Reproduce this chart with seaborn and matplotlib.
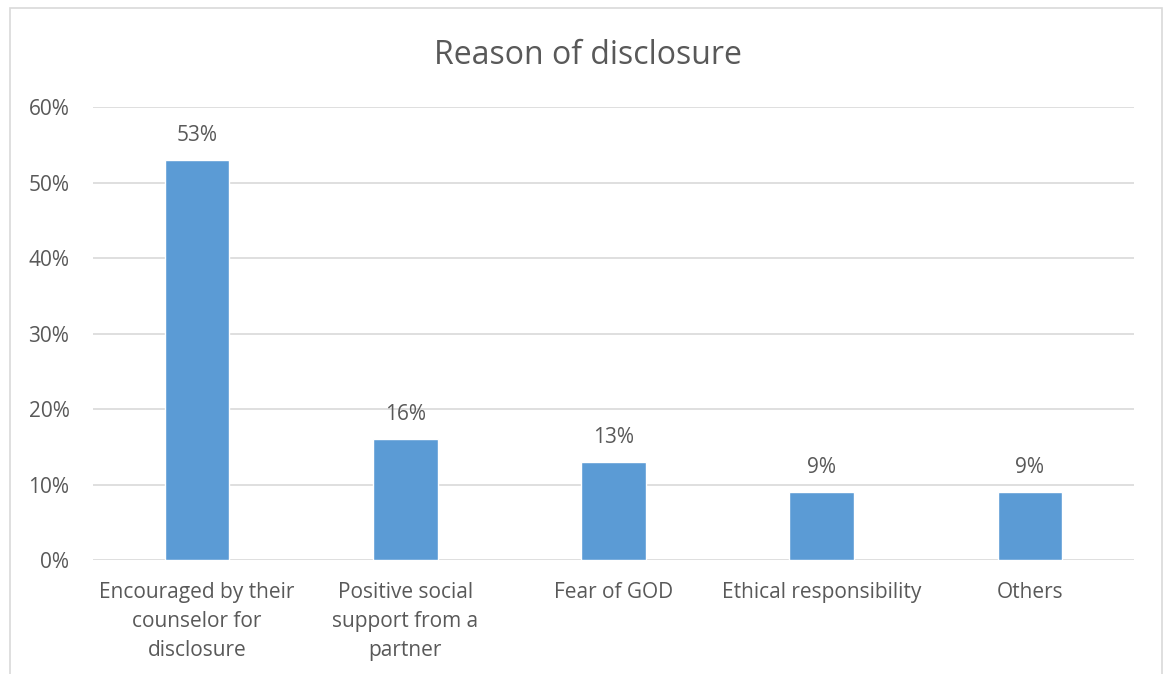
import matplotlib
matplotlib.use("Agg")
import matplotlib.pyplot as plt
import seaborn as sns
import pandas as pd
from matplotlib.patches import Rectangle

categories = ["Encouraged by their\ncounselor for\ndisclosure",
              "Positive social\nsupport from a\npartner",
              "Fear of GOD",
              "Ethical responsibility",
              "Others"]
values = [0.53, 0.16, 0.13, 0.09, 0.09]
value_labels = ["53%", "16%", "13%", "9%", "9%"]
yticks = [0, 0.1, 0.2, 0.3, 0.4, 0.5, 0.6]
ytick_labels = ["0%", "10%", "20%", "30%", "40%", "50%", "60%"]
title = "Reason of disclosure"

sns.set_theme(style="white")
plt.rcParams['font.family'] = ['Open Sans', 'DejaVu Sans']

TEXT = "#595959"
GRID = "#D9D9D9"
BAR = "#5B9BD5"

df = pd.DataFrame({"cat": categories, "val": values})

fig = plt.figure(figsize=(11.66, 6.74), dpi=100)
fig.patches.append(Rectangle((10/1166, -0.01), (1162-10)/1166, (674-8)/674 + 0.01,
                             transform=fig.transFigure, fill=False,
                             edgecolor="#D9D9D9", linewidth=1.2))
ax = fig.add_axes([93/1166, 1-560/674, (1134-93)/1166, (560-107)/674])
sns.barplot(data=df, x="cat", y="val", color=BAR, width=0.31, ax=ax, saturation=1)

ax.set_ylim(0, 0.6)
ax.set_xlim(-0.5, len(categories) - 0.5)
ax.set_yticks(yticks)
ax.set_yticklabels(ytick_labels, color=TEXT, fontsize=15)
ax.tick_params(axis="x", colors=TEXT, labelsize=15, length=0, pad=16)
ax.tick_params(axis="y", length=0, pad=17)
for t in ax.get_xticklabels():
    t.set_linespacing(1.5)
ax.set_xlabel("")
ax.set_ylabel("")
ax.grid(axis="y", color=GRID, linewidth=1.2)
ax.set_axisbelow(True)
for s in ax.spines.values():
    s.set_visible(False)

for i, (v, lab) in enumerate(zip(values, value_labels)):
    ax.annotate(lab, (i, v), xytext=(0, 10), textcoords="offset points",
                ha="center", va="bottom", color=TEXT, fontsize=15)

fig.text(588/1166, 1-55/674, title, ha="center", va="center", color=TEXT, fontsize=23)

fig.savefig("out.png", dpi=100, facecolor="white")
